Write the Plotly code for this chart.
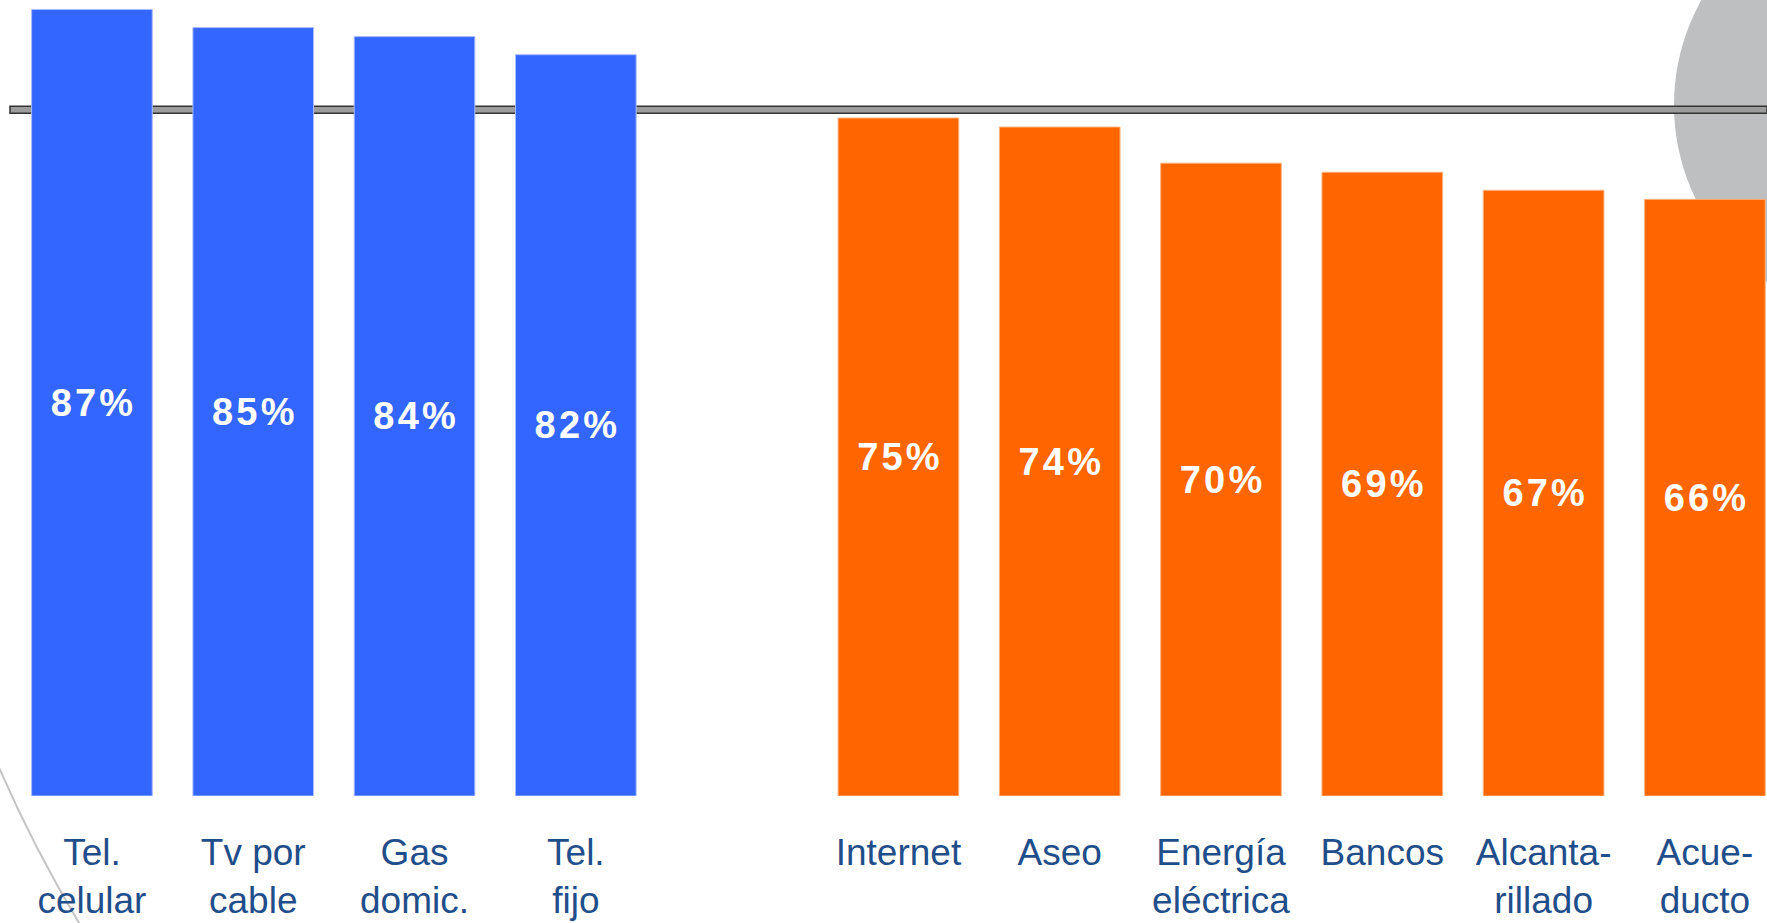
import plotly.graph_objects as go

###############################################################################
# Data
###############################################################################
blue_labels = ['Tel.<br>celular', 'Tv por<br>cable', 'Gas<br>domic.', 'Tel.<br>fijo']
blue_values = [87, 85, 84, 82]

orange_labels = ['Internet', 'Aseo', 'Energía<br>eléctrica', 'Bancos',
                 'Alcanta-<br>rillado', 'Acue-<br>ducto']
orange_values = [75, 74, 70, 69, 67, 66]

SPACER = ' '
BLUE = '#3366ff'
ORANGE = '#ff6600'
LABEL_COLOR = '#1f4e8a'
FONT = 'Liberation Sans, Arial, sans-serif'

all_values = blue_values + orange_values
average = sum(all_values) / len(all_values)


def spaced_percent(values: list[int]) -> list[str]:
    """Return the percentage labels with a little extra space between characters."""
    return ['\u200a'.join(f'{v}%') for v in values]


###############################################################################
# Figure
###############################################################################
fig = go.Figure()

bar_style = dict(textposition='inside', insidetextanchor='middle', textangle=0,
                 textfont=dict(family=FONT, size=38, color='white', weight='bold'),
                 hoverinfo='skip')

fig.add_trace(go.Bar(x=blue_labels + [SPACER], y=blue_values + [None],
                     text=spaced_percent(blue_values) + [''],
                     marker=dict(color=BLUE, line=dict(color='#a9bcff', width=1)),
                     **bar_style))
fig.add_trace(go.Bar(x=orange_labels, y=orange_values,
                     text=spaced_percent(orange_values),
                     marker=dict(color=ORANGE, line=dict(color='#ffb27f', width=1)),
                     **bar_style))

# grey circle in the top right corner
fig.add_shape(type='circle', layer='below',
              xref='paper', xsizemode='pixel', xanchor=1, x0=-93, x1=337,
              yref='paper', ysizemode='pixel', yanchor=1, y0=-320, y1=110,
              fillcolor='#bebfc1', line=dict(width=0))

# thin arc in the lower left corner
fig.add_shape(type='circle', layer='below',
              xref='paper', xsizemode='pixel', xanchor=0, x0=1237 - 1350, x1=1237 + 1350,
              yref='paper', ysizemode='pixel', yanchor=1, y0=-229 - 1350, y1=-229 + 1350,
              fillcolor='rgba(0,0,0,0)', line=dict(color='#c4c4c4', width=2))

# average line
fig.add_shape(type='rect', layer='below',
              xref='paper', x0=10 / 1767, x1=1,
              yref='y', ysizemode='pixel', yanchor=average, y0=-3.5, y1=3.5,
              fillcolor='#9c9c9c', line=dict(color='#333333', width=1.5))

fig.update_layout(width=1767, height=923,
                  margin=dict(l=0, r=0, t=0, b=127),
                  barmode='overlay', bargap=0.252,
                  showlegend=False, hovermode=False,
                  paper_bgcolor='white', plot_bgcolor='rgba(0,0,0,0)')

fig.update_xaxes(categoryorder='array',
                 categoryarray=blue_labels + [SPACER] + orange_labels,
                 range=[-0.570, 10.385], showgrid=False, showline=False,
                 zeroline=False, ticks='', ticklabelstandoff=31,
                 tickfont=dict(family=FONT, size=37, color=LABEL_COLOR))
fig.update_yaxes(range=[0, 88.05], visible=False, showgrid=False, zeroline=False)

fig.write_html('out.html', config={'displayModeBar': False},
               post_script="document.body.style.margin = '0';")
